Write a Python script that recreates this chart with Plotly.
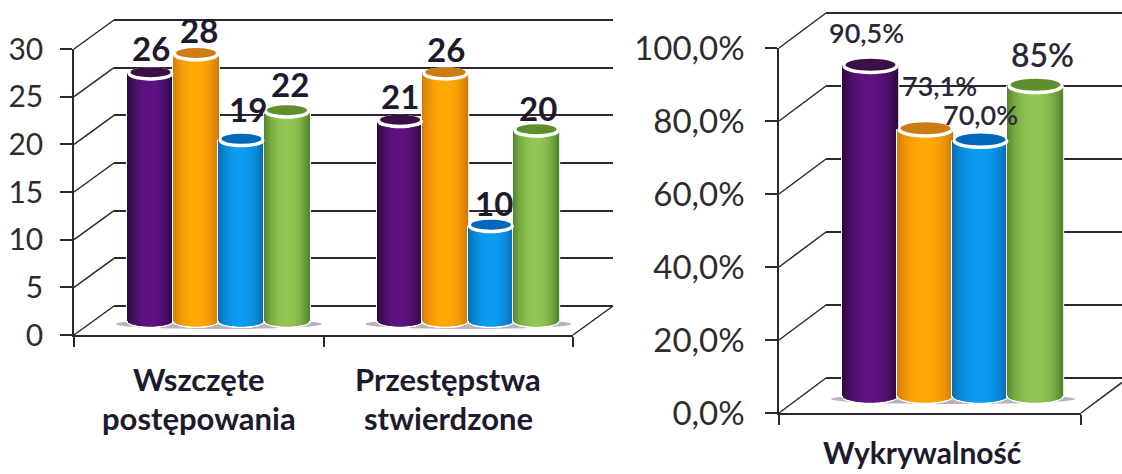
import math
import plotly.graph_objects as go

W, H = 1122, 474

# ---- data ----
left_categories = ["Wszczęte\npostępowania", "Przestępstwa\nstwierdzone"]
left_purple = [26, 21]
left_orange = [28, 26]
left_blue = [19, 10]
left_green = [22, 20]
left_ticks = [0, 5, 10, 15, 20, 25, 30]

right_categories = ["Wykrywalność"]
right_purple = [90.5]
right_orange = [73.1]
right_blue = [70.0]
right_green = [85.0]
right_ticks = [0, 20, 40, 60, 80, 100]
right_ticktext = ["0,0%", "20,0%", "40,0%", "60,0%", "80,0%", "100,0%"]
right_labels = [["90,5%"], ["73,1%"], ["70,0%"], ["85%"]]

# ---- styles: (centre, edge, cap) ----
PALETTE = [
    ("#5c1280", "#2c0a3c", "#3b1044"),
    ("#ffa806", "#d47c08", "#cc7c12"),
    ("#0a9cf0", "#0a6cb0", "#0068bc"),
    ("#92c552", "#55882c", "#5f8f2c"),
]
INK = "#1c1a2c"
LINE = "#2e2634"
FONT = "Lato"


def px(x):
    return x / W


def py(y):
    return 1 - y / H


def hex_rgb(c):
    return tuple(int(c[i:i + 2], 16) for i in (1, 3, 5))


def mix(a, b, t):
    a, b = hex_rgb(a), hex_rgb(b)
    return "rgb(%d,%d,%d)" % tuple(round(a[i] + (b[i] - a[i]) * t) for i in range(3))


fig = go.Figure()
shapes, annotations = [], []
layout = {}


def axis_names(n):
    return ("xaxis%d" % n if n > 1 else "xaxis", "yaxis%d" % n if n > 1 else "yaxis",
            "x%d" % n if n > 1 else "x", "y%d" % n if n > 1 else "y")


def chart(first, series, xmax, ticks, ticktext, front, depth, base_px, bar_dx, group_step,
          bar_w, cap_h, right_clip, tick_size):
    """front=(x0,x1,y0,y1) pixels of the front plane; depth=(dx,dy) to the back wall."""
    fx0, fx1, fy0, fy1 = front
    dx, dy = depth
    vmax = ticks[-1]
    unit = (fy0 - fy1) / vmax  # pixels per value
    cat_px = (fx1 - fx0) / xmax

    back_x, back_y, _, _ = axis_names(first)
    front_x, front_y, fxr, fyr = axis_names(first + 1)
    bars_x, bars_y, bxr, byr = axis_names(first + 2)

    # back wall (a little head and foot room keeps the end gridlines drawn)
    room = 3
    bx1 = min(fx1 + dx, right_clip)
    layout[back_x] = dict(domain=[px(fx0 + dx), px(bx1)], range=[0, (bx1 - fx0 - dx) / cat_px],
                          visible=False, anchor=axis_names(first)[3])
    layout[back_y] = dict(domain=[py(fy0 - dy + room), py(fy1 - dy - room)],
                          range=[-room / unit, vmax + room / unit], tickvals=ticks,
                          showgrid=True, gridcolor=LINE, gridwidth=1.8, zeroline=False,
                          showline=False, ticks="",
                          showticklabels=False, anchor=axis_names(first)[2])
    fig.add_trace(go.Scatter(x=[0], y=[0], xaxis=axis_names(first)[2], yaxis=axis_names(first)[3],
                             mode="markers", marker=dict(opacity=0), hoverinfo="skip", showlegend=False))

    # front plane
    layout[front_x] = dict(domain=[px(fx0), px(fx1)], range=[0, xmax], tickvals=list(range(xmax + 1)),
                           showticklabels=False, ticks="outside", ticklen=10, tickwidth=1.5,
                           tickcolor=LINE, showline=True, linecolor=LINE, linewidth=2,
                           showgrid=False, zeroline=False, anchor=fyr)
    layout[front_y] = dict(domain=[py(fy0), py(fy1)], range=[0, vmax], tickvals=ticks, ticktext=ticktext,
                           ticks="outside", ticklen=12, tickwidth=1.5, tickcolor=LINE, showline=True,
                           linecolor=LINE, linewidth=1.5, showgrid=False, zeroline=False, anchor=fxr,
                           ticklabelstandoff=tick_size[1],
                           tickfont=dict(family=FONT, size=tick_size[0], color="#2c2c2c"))
    fig.add_trace(go.Scatter(x=[0], y=[0], xaxis=fxr, yaxis=fyr, mode="markers",
                             marker=dict(opacity=0), hoverinfo="skip", showlegend=False))

    # slanted wall and floor lines, taken from the tick values
    for t in ticks:
        y = fy0 - t * unit
        shapes.append(dict(type="line", xref="paper", yref="paper", x0=px(fx0), y0=py(y),
                           x1=px(fx0 + dx), y1=py(y - dy), line=dict(color=LINE, width=1.5), layer="below"))
    shapes.append(dict(type="line", xref="paper", yref="paper", x0=px(fx1), y0=py(fy0),
                       x1=px(min(fx1 + dx, right_clip)),
                       y1=py(fy0 - dy * (min(fx1 + dx, right_clip) - fx1) / dx),
                       line=dict(color=LINE, width=1.5), layer="below"))

    # cylinders
    bars_left = fx0 + bar_dx
    below = cap_h + 4  # room under the zero line for the rounded cylinder bottoms
    layout[bars_x] = dict(domain=[px(bars_left), px(bars_left + fx1 - fx0)], range=[0, xmax],
                          visible=False, anchor=byr)
    layout[bars_y] = dict(domain=[py(base_px + below), py(base_px - vmax * unit)],
                          range=[-below / unit, vmax], visible=False, anchor=bxr)
    pxw = 1 / cat_px
    r = bar_w / 2
    for g in range(xmax):
        shadow_r = 2 * group_step + 12
        shapes.append(dict(type="circle", xref=bxr, yref=byr, xsizemode="scaled", ysizemode="pixel",
                           yanchor=0, x0=g + 0.5 - shadow_r * pxw, x1=g + 0.5 + shadow_r * pxw,
                           y0=-8, y1=2, fillcolor="#b9b2bd", line_width=0, layer="below"))
    for s, values in enumerate(series):
        centre, edge, cap = PALETTE[s]
        xs, ys, bases, cols, widths = [], [], [], [], []
        for g, v in enumerate(values):
            cx = g + 0.5 + (s - 1.5) * group_step * pxw
            # white silhouette
            n = int(r + 1.5)
            for i in range(-n, n + 1):
                u = i / (r + 1.5)
                b = -math.sqrt(max(0, 1 - u * u)) * (cap_h + 1.5) / unit
                xs.append(cx + i * pxw); ys.append(v - b); bases.append(b)
                cols.append("#ffffff"); widths.append(1.4 * pxw)
            # shaded body
            n = int(r)
            for i in range(-n, n + 1):
                u = i / r
                b = -math.sqrt(max(0, 1 - u * u)) * cap_h / unit
                xs.append(cx + i * pxw); ys.append(v - b); bases.append(b)
                cols.append(mix(centre, edge, abs(u) ** 2.4)); widths.append(1.4 * pxw)
            # cap
            shapes.append(dict(type="circle", xref=bxr, yref=byr, xsizemode="scaled", ysizemode="pixel",
                               yanchor=v, x0=cx - (r + 1) * pxw, x1=cx + (r + 1) * pxw,
                               y0=-cap_h - 2, y1=cap_h + 0.5, fillcolor="#ffffff", line_width=0, layer="above"))
            shapes.append(dict(type="circle", xref=bxr, yref=byr, xsizemode="scaled", ysizemode="pixel",
                               yanchor=v, x0=cx - (r - 2) * pxw, x1=cx + (r - 2) * pxw,
                               y0=-cap_h + 1.5, y1=cap_h + 0.5, fillcolor=cap, line_width=0, layer="above"))
        fig.add_trace(go.Bar(x=xs, y=ys, base=bases, width=widths, xaxis=bxr, yaxis=byr,
                             marker=dict(color=cols, line_width=0), cliponaxis=False,
                             hoverinfo="skip", showlegend=False))
    return bxr, byr, fxr, pxw


# ---- left chart ----
left_series = [left_purple, left_orange, left_blue, left_green]
bx, by, fx, pw = chart(1, left_series, 2, left_ticks, [str(t) for t in left_ticks],
                       (74, 573, 335, 49), (40, 29), 321, 20, 45.5, 44, 5.5, W, (30, 11))
left_dy = [[25, 25], [24, 24], [31, 23], [27, 22]]
left_dx = [[0, 0], [3, 0], [6, 3], [3, 1]]
for s, vals in enumerate(left_series):
    for g, v in enumerate(vals):
        annotations.append(dict(x=g + 0.5 + (s - 1.5) * 45.5 * pw, y=v, xref=bx, yref=by, text=str(v),
                                showarrow=False, yshift=left_dy[s][g], xshift=left_dx[s][g],
                                font=dict(family=FONT, size=33, color=INK, weight=700)))
for c, cat in enumerate(left_categories):
    for ln, text in enumerate(cat.split("\n")):
        annotations.append(dict(x=c + 0.5, y=py(379 + 39 * ln), xref=fx, yref="paper", text=text,
                                yanchor="middle", showarrow=False,
                                font=dict(family=FONT, size=31, color=INK, weight=700)))

# ---- right chart ----
right_series = [right_purple, right_orange, right_blue, right_green]
bx, by, fx, pw = chart(4, right_series, 1, right_ticks, right_ticktext,
                       (779, 1081, 413, 48), (47, 35), 396, 23, 55, 54, 6.5, W, (33, 14))
right_dy = [33, 44, 26, 31]
right_dx = [-4, 14, 0, 7]
right_sizes = [27, 27, 27, 32]
for s, vals in enumerate(right_series):
    for g, v in enumerate(vals):
        annotations.append(dict(x=g + 0.5 + (s - 1.5) * 55 * pw, y=v, xref=bx, yref=by, text=right_labels[s][g],
                                showarrow=False, yshift=right_dy[s], xshift=right_dx[s],
                                font=dict(family=FONT, size=right_sizes[s], color="#2a2838", weight=600)))
annotations.append(dict(x=0.5, y=py(452), xref=fx, yref="paper", text=right_categories[0], xshift=-8,
                        yanchor="middle", showarrow=False,
                        font=dict(family=FONT, size=30, color=INK, weight=700)))

fig.update_layout(template="none", width=W, height=H, autosize=False, margin=dict(l=0, r=0, t=0, b=0),
                  paper_bgcolor="white", plot_bgcolor="rgba(0,0,0,0)", barmode="overlay",
                  showlegend=False, shapes=shapes, annotations=annotations, **layout)
fig.write_html("out.html", config={"displayModeBar": False, "responsive": False},
               post_script="document.body.style.margin='0';document.body.style.overflow='hidden';")
